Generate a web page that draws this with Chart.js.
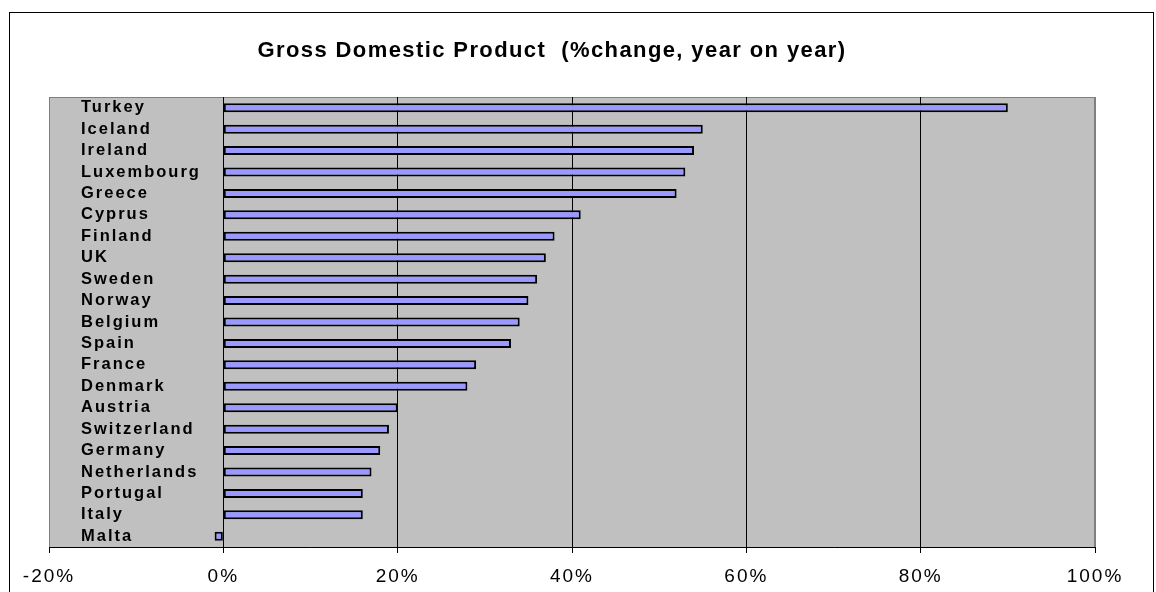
<!DOCTYPE html>
<html>
<head>
<meta charset="utf-8">
<script src="https://cdn.jsdelivr.net/npm/chart.js@4"></script>
<style>
  html, body { margin: 0; padding: 0; background: #fff; overflow: hidden; }
  #wrap { position: relative; width: 1156px; height: 592px; }
  #frame { position: absolute; left: 9px; top: 12px; width: 1143px; height: 700px; border: 1px solid #000; }
  #gdpChart { position: absolute; left: 0; top: 0; }
</style>
</head>
<body>
<div id="wrap">
  <div id="frame"></div>
  <canvas id="gdpChart" width="1156" height="592"></canvas>
</div>
<script>
// Kraje (od góry do dołu)
const countries = ['Turkey', 'Iceland', 'Ireland', 'Luxembourg', 'Greece', 'Cyprus', 'Finland', 'UK', 'Sweden', 'Norway',
    'Belgium', 'Spain', 'France', 'Denmark', 'Austria', 'Switzerland', 'Germany', 'Netherlands', 'Portugal', 'Italy', 'Malta'];

// Zmiana PKB w % r/r
const gdpChange = [90, 55, 54, 53, 52, 41, 38, 37, 36, 35, 34, 33, 29, 28, 20, 19, 18, 17, 16, 16, -1];

// Etykiety osi X
const xTicks = [-20, 0, 20, 40, 60, 80, 100];

const chartTitle = 'Gross Domestic Product  (%change, year on year)';

// Tlo obszaru wykresu + rozstrzelone litery jak w Excelu
const excelLook = {
    id: 'excelLook',
    beforeDraw(chart) {
        const { ctx, chartArea: a } = chart;
        ctx.save();
        ctx.fillStyle = '#C0C0C0';
        ctx.fillRect(a.left, a.top, a.right - a.left, a.bottom - a.top);
        ctx.strokeStyle = '#808080';
        ctx.lineWidth = 1;
        ctx.strokeRect(a.left + 0.5, a.top + 0.5, a.right - a.left - 1, a.bottom - a.top);
        ctx.restore();
        ctx.letterSpacing = '1.4px'; // tytul
    },
    afterDatasetsDraw(chart) {
        chart.ctx.letterSpacing = '2px'; // etykiety osi (ticks.z = 1)
    },
    afterDraw(chart) {
        chart.ctx.letterSpacing = '0px';
    }
};

const ctxGdp = document.getElementById('gdpChart').getContext('2d');

const gdpChart = new Chart(ctxGdp, {
    type: 'bar',
    data: {
        labels: countries,
        datasets: [{
            label: 'GDP',
            data: gdpChange,
            backgroundColor: '#9999FF',
            borderColor: '#000000',
            borderWidth: 2,
            borderSkipped: false,
            categoryPercentage: 1,
            barPercentage: 0.42
        }]
    },
    options: {
        indexAxis: 'y',
        responsive: false,
        animation: false,
        layout: { padding: { left: 9, right: 61, top: 0, bottom: 0 } },
        plugins: {
            legend: { display: false },
            tooltip: { enabled: false },
            title: {
                display: true,
                text: chartTitle,
                color: '#000',
                font: { family: 'Liberation Sans, Arial, sans-serif', size: 22, weight: 'bold', lineHeight: 1.2 },
                padding: { top: 38, bottom: 32.6 }
            }
        },
        scales: {
            x: {
                min: -20,
                max: 100,
                afterBuildTicks: (scale) => { scale.ticks = xTicks.map(v => ({ value: v })); },
                afterFit: (scale) => { scale.height = 45; },
                ticks: {
                    z: 1,
                    color: '#000',
                    font: { family: 'Liberation Sans, Arial, sans-serif', size: 19 },
                    padding: 12,
                    maxRotation: 0,
                    callback: (v) => v + '%'
                },
                grid: {
                    color: (c) => (c.tick && (c.tick.value === -20 || c.tick.value === 100)) ? '#808080' : '#000000',
                    lineWidth: 1,
                    tickLength: 6,
                    tickColor: '#000000'
                },
                border: { color: '#000', width: 1 }
            },
            y: {
                afterFit: (scale) => { scale.width = 40; },
                grid: { display: false },
                border: { display: false },
                ticks: {
                    z: 1,
                    autoSkip: false,
                    mirror: true,
                    padding: 32,
                    labelOffset: 0,
                    color: '#000',
                    font: { family: 'Liberation Sans, Arial, sans-serif', size: 16.5, weight: 'bold' }
                }
            }
        }
    },
    plugins: [excelLook]
});
</script>
</body>
</html>
